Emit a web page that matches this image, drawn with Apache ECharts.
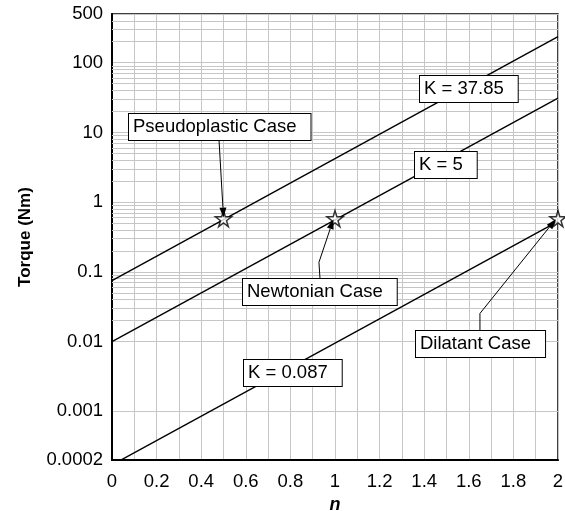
<!DOCTYPE html>
<html><head>
<meta charset="utf-8">
<title>Torque vs n</title>
<script src="https://cdn.jsdelivr.net/npm/echarts@6/dist/echarts.min.js"></script>
<style>html,body{margin:0;background:#fff;}#main{width:565px;height:511px;}</style>
</head>
<body>
<div id="main"></div>
<script>
// values
var nValues = [0, 2];
var torqueK3785 = [0.075, 236];
var torqueK5 = [0.01, 31];
var torqueK0087 = [0.00017, 0.53];
var starN = [0.5, 1, 2];
var starTorque = [0.58, 0.58, 0.58];
var yMinorGrid = [0.0003, 0.0004, 0.0005, 0.0006, 0.0007, 0.0008, 0.0009,
	0.002, 0.003, 0.004, 0.005, 0.006, 0.007, 0.008, 0.009,
	0.02, 0.03, 0.04, 0.05, 0.06, 0.07, 0.08, 0.09,
	0.2, 0.3, 0.4, 0.5, 0.6, 0.7, 0.8, 0.9,
	2, 3, 4, 5, 6, 7, 8, 9,
	20, 30, 40, 50, 60, 70, 80, 90,
	200, 300, 400];

var FONT = 'Arial, "Liberation Sans", sans-serif';
var GRID_GRAY = '#c6c6c6';
var STAR = 'path://M50,0 L61,35 L98,35 L68,57 L79,91 L50,70 L21,91 L32,57 L2,35 L39,35 Z';

function pairs(xs, ys) {
	var out = [];
	for (var i = 0; i < xs.length; i++) out.push([xs[i], ys[i]]);
	return out;
}
function lineSeries(name, ys) {
	return {name: name, type: 'line', data: pairs(nValues, ys), symbol: 'none', z: 3,
		lineStyle: {color: '#000', width: 1.4}, animation: false};
}

var chart = echarts.init(document.getElementById('main'));
chart.setOption({
	animation: false,
	grid: {left: 112, right: 7, top: 14, bottom: 51, show: true, borderColor: '#000', borderWidth: 1.5,
		outerBoundsMode: 'none', containLabel: false},
	xAxis: {
		type: 'value', min: 0, max: 2, interval: 0.2,
		name: 'n', nameLocation: 'middle', nameGap: 31,
		nameTextStyle: {fontFamily: FONT, fontSize: 18, fontWeight: 'bold', fontStyle: 'italic', color: '#000'},
		axisLine: {lineStyle: {color: '#000', width: 2}},
		axisTick: {show: false},
		axisLabel: {fontFamily: FONT, fontSize: 18.5, color: '#000', margin: 12,
			formatter: function (v) { return String(+v.toFixed(1)); }},
		splitLine: {lineStyle: {color: GRID_GRAY, width: 1}},
		minorTick: {show: false, splitNumber: 2},
		minorSplitLine: {show: true, lineStyle: {color: GRID_GRAY, width: 1}}
	},
	yAxis: {
		type: 'log', logBase: 10, min: 0.0002, max: 500,
		name: 'Torque (Nm)', nameLocation: 'middle', nameGap: 78,
		nameTextStyle: {fontFamily: FONT, fontSize: 17, fontWeight: 'bold', color: '#000'},
		axisLine: {lineStyle: {color: '#000', width: 2}},
		axisTick: {show: false},
		axisLabel: {fontFamily: FONT, fontSize: 18.5, color: '#000', margin: 9,
			formatter: function (v) { return String(+v.toPrecision(6)); }},
		splitLine: {lineStyle: {color: GRID_GRAY, width: 1}}
	},
	series: [
		{type: 'line', data: [], z: 1, silent: true,
			markLine: {silent: true, z: 1, symbol: 'none', animation: false, label: {show: false},
				lineStyle: {color: GRID_GRAY, width: 1, type: 'solid'},
				emphasis: {disabled: true},
				data: yMinorGrid.map(function (v) { return {yAxis: v}; })}},
		lineSeries('K = 37.85', torqueK3785),
		lineSeries('K = 5', torqueK5),
		lineSeries('K = 0.087', torqueK0087),
		{type: 'scatter', data: pairs(starN, starTorque), symbol: STAR, symbolSize: 16, z: 4,
			itemStyle: {color: '#fff', borderColor: '#000', borderWidth: 1.5}}
	]
});

function px(n, v) { return chart.convertToPixel({gridIndex: 0}, [n, v]); }

// annotation boxes: left edge / vertical centre given in data units
var boxes = [
	{text: 'K = 37.85', at: [1.381, 41.8]},
	{text: 'K = 5', at: [1.359, 3.44]},
	{text: 'Pseudoplastic Case', at: [0.076, 11.9]},
	{text: 'Newtonian Case', at: [0.587, 0.0507]},
	{text: 'Dilatant Case', at: [1.363, 0.00937]},
	{text: 'K = 0.087', at: [0.592, 0.00353]}
];
// leader lines ending with an arrow on a star
var leaders = [
	[[0.48, 7.7], [0.5, 0.6]],
	[[0.933, 0.078], [0.928, 0.137], [0.993, 0.57]],
	[[1.65, 0.0144], [1.65, 0.0253], [1.99, 0.57]]
];

var graphics = [];
leaders.forEach(function (pts) {
	var p = pts.map(function (d) { return px(d[0], d[1]); });
	var a = p[p.length - 2], b = p[p.length - 1];
	var dx = b[0] - a[0], dy = b[1] - a[1], len = Math.sqrt(dx * dx + dy * dy);
	var ux = dx / len, uy = dy / len;
	var hl = 10, hw = 3.5;
	var base = [b[0] - ux * hl, b[1] - uy * hl];
	graphics.push({type: 'polyline', z: 100, shape: {points: p.slice(0, p.length - 1).concat([base])},
		style: {stroke: '#000', lineWidth: 1, fill: null}});
	graphics.push({type: 'polygon', z: 101, shape: {points: [b,
		[base[0] - uy * hw, base[1] + ux * hw], [base[0] + uy * hw, base[1] - ux * hw]]},
		style: {fill: '#000'}});
});
boxes.forEach(function (bx) {
	var p = px(bx.at[0], bx.at[1]);
	graphics.push({type: 'text', z: 110, x: Math.round(p[0]), y: Math.round(p[1]),
		style: {text: bx.text, font: '18.5px ' + FONT, fill: '#000', verticalAlign: 'middle', align: 'left',
			backgroundColor: '#fff', borderColor: '#000', borderWidth: 1, padding: [4, 14, 3, 4]}});
});
chart.setOption({graphic: graphics});
</script>
</body>
</html>
